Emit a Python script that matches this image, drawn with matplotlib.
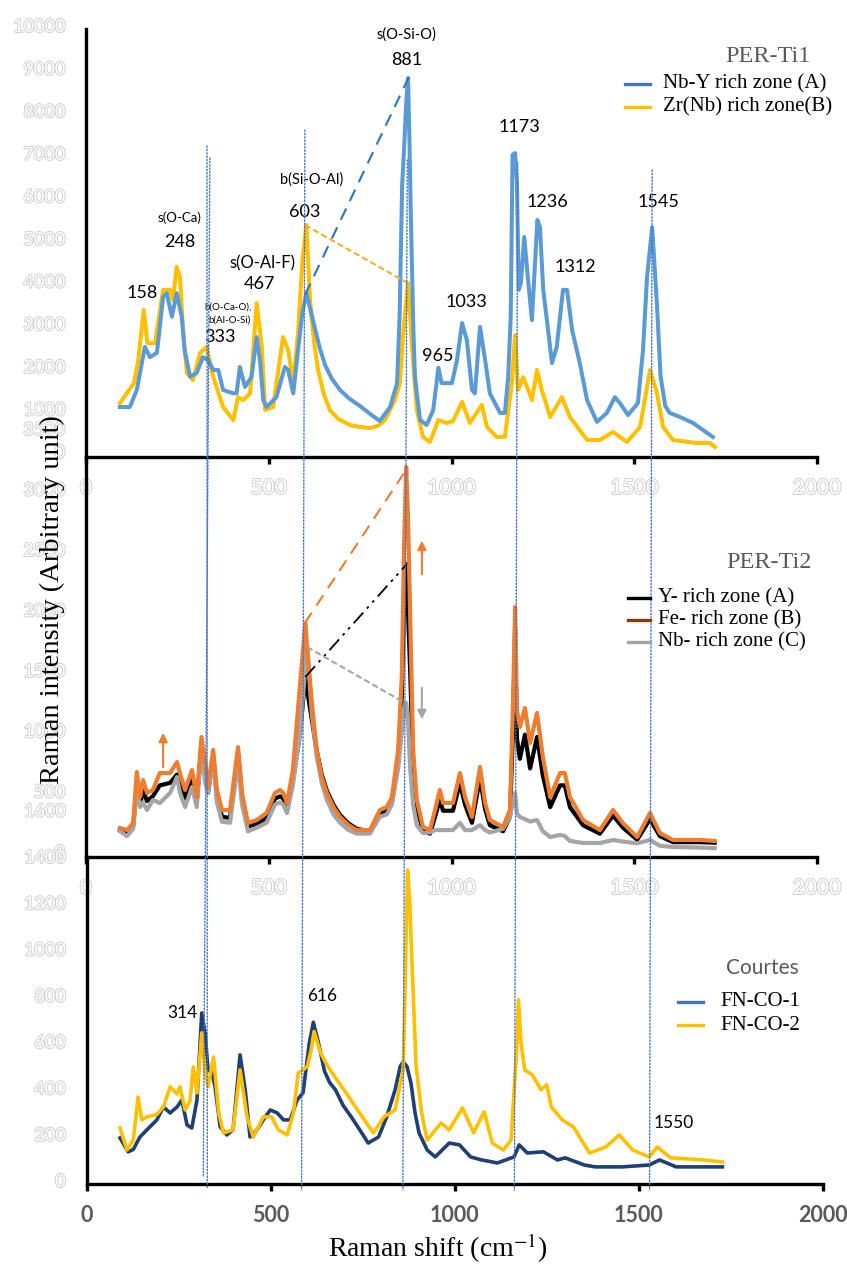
import matplotlib.pyplot as plt
import matplotlib.patheffects as pe
from matplotlib.patches import ConnectionPatch
from matplotlib.lines import Line2D

plt.rcParams['mathtext.fontset'] = 'stix'

# ---- PER-Ti1 (top panel) ----
t1_x_a = [93, 120, 139, 161, 175, 194, 211, 221, 235, 248, 262, 270, 285, 303, 320, 334, 348, 362, 375, 403,
          412, 421, 435, 453, 467, 476, 485, 494, 521, 544, 553, 567, 580, 592, 603, 613, 627, 640, 654, 672,
          695, 720, 750, 780, 804, 832, 851, 858, 865, 870, 876, 881, 885, 888, 892, 896, 900, 905, 914, 932,
          950, 964, 973, 1001, 1015, 1029, 1042, 1056, 1064, 1078, 1092, 1105, 1133, 1146, 1155, 1162, 1167,
          1174, 1179, 1184, 1190, 1199, 1208, 1220, 1235, 1242, 1251, 1260, 1275, 1288, 1305, 1316, 1330, 1351,
          1371, 1398, 1425, 1447, 1461, 1483, 1510, 1524, 1535, 1549, 1562, 1572, 1585, 1597, 1625, 1661, 1688,
          1715]
t1_y_a = [1080, 1080, 1480, 2490, 2250, 2350, 3660, 3750, 3200, 3750, 3200, 2400, 1790, 1880, 2250, 2180, 1950,
          1950, 1480, 1400, 1400, 2020, 1550, 1790, 2720, 2180, 1240, 1080, 1310, 2020, 1950, 1400, 2400, 3300,
          3750, 3400, 2900, 2450, 2070, 1750, 1480, 1280, 1100, 900, 750, 1080, 1640, 3200, 6300, 7100, 8200,
          8800, 7300, 5900, 4300, 2800, 1800, 1410, 775, 657, 1010, 2000, 1640, 1640, 2180, 3050, 2650, 1480,
          1400, 2960, 2180, 1400, 940, 940, 1780, 3190, 7000, 7040, 6340, 3830, 4000, 5070, 4200, 3120, 5470,
          5300, 3830, 3190, 2110, 2490, 3830, 3830, 2890, 2110, 1240, 730, 940, 1310, 1170, 890, 1170, 2420,
          4130, 5300, 3500, 1800, 1100, 940, 845, 704, 540, 376]
t1_x_b = [93, 131, 143, 158, 168, 189, 211, 230, 238, 248, 257, 266, 276, 293, 312, 330, 348, 375, 403, 416,
          430, 449, 467, 481, 490, 512, 539, 553, 567, 580, 592, 603, 613, 624, 635, 650, 667, 690, 722, 750,
          777, 800, 818, 845, 859, 867, 881, 892, 905, 922, 941, 964, 987, 1004, 1029, 1050, 1083, 1097, 1124,
          1146, 1165, 1174, 1182, 1196, 1210, 1220, 1234, 1247, 1270, 1302, 1324, 1371, 1406, 1442, 1480, 1516,
          1543, 1562, 1579, 1606, 1671, 1707, 1721]
t1_y_b = [1170, 1640, 2180, 3360, 2580, 2580, 3830, 3830, 3590, 4370, 4130, 2820, 1880, 1710, 2350, 2490, 1790,
          1080, 770, 1310, 1240, 1400, 3520, 2490, 1010, 1080, 2720, 2420, 1640, 2800, 4500, 5350, 3590, 2600,
          1950, 1400, 1010, 800, 657, 610, 587, 640, 775, 1240, 1640, 2720, 3990, 2500, 1010, 376, 258, 775,
          704, 750, 1200, 704, 1130, 610, 376, 376, 1640, 2770, 1480, 1780, 1480, 1240, 1950, 1480, 845, 1310,
          845, 305, 305, 493, 258, 610, 1950, 1410, 610, 305, 235, 235, 140]

# ---- PER-Ti2 (middle panel) ----
t2_x = [93, 112, 129, 139, 148, 156, 167, 183, 202, 230, 249, 257, 271, 290, 303, 316, 326, 334, 348, 358, 372,
        394, 416, 427, 443, 467, 494, 517, 531, 540, 550, 566, 586, 600, 605, 618, 631, 645, 659, 677, 695, 718,
        741, 777, 804, 823, 837, 854, 864, 870, 876, 881, 887, 895, 905, 922, 941, 955, 968, 977, 1004, 1023,
        1037, 1056, 1078, 1092, 1105, 1141, 1160, 1168, 1174, 1179, 1187, 1201, 1215, 1234, 1250, 1270, 1297,
        1310, 1324, 1360, 1406, 1442, 1469, 1508, 1543, 1570, 1606, 1680, 1720]
t2_y_a = [190, 170, 220, 560, 400, 520, 430, 470, 560, 580, 650, 600, 450, 620, 420, 900, 700, 500, 800, 480, 300,
          290, 820, 450, 220, 240, 290, 450, 470, 450, 380, 600, 1000, 1457, 1350, 1100, 850, 650, 515, 400, 315,
          245, 200, 180, 330, 350, 420, 760, 1300, 2000, 2392, 2000, 1500, 700, 380, 180, 160, 300, 440, 350, 350,
          580, 400, 250, 620, 360, 230, 180, 300, 1000, 1850, 950, 780, 980, 700, 960, 640, 380, 560, 560, 380,
          230, 160, 310, 210, 110, 280, 140, 90, 90, 85]
t2_y_b = [207, 190, 248, 670, 463, 604, 497, 522, 662, 662, 753, 662, 522, 687, 463, 960, 745, 546, 853, 522, 356,
          356, 877, 497, 248, 273, 331, 497, 522, 497, 414, 687, 1407, 1904, 1705, 1242, 853, 629, 497, 381, 298,
          232, 190, 190, 356, 381, 463, 853, 1457, 2508, 3195, 2781, 1954, 853, 439, 215, 190, 356, 522, 414, 414,
          662, 463, 298, 712, 414, 273, 215, 356, 1200, 2036, 1184, 1043, 1200, 911, 1159, 795, 463, 662, 662,
          463, 273, 190, 356, 248, 132, 331, 165, 108, 108, 100]
t2_y_c = [180, 140, 200, 522, 380, 420, 356, 439, 414, 497, 629, 500, 381, 546, 381, 877, 580, 500, 770, 420, 260,
          250, 750, 400, 180, 210, 250, 400, 420, 400, 330, 560, 1000, 1550, 1705, 1150, 800, 580, 440, 320, 250,
          190, 160, 160, 300, 320, 400, 700, 1000, 1200, 1242, 1100, 700, 400, 230, 165, 170, 190, 190, 190, 190,
          250, 190, 190, 230, 190, 170, 200, 300, 420, 497, 330, 298, 280, 260, 273, 180, 132, 150, 140, 100, 83,
          83, 108, 95, 80, 108, 60, 50, 45, 40]

# ---- Courtes (bottom panel) ----
co_x_1 = [91, 113, 127, 145, 164, 191, 209, 227, 246, 259, 273, 286, 300, 313, 322, 330, 341, 349, 363, 381, 398,
          417, 431, 444, 463, 480, 499, 518, 535, 553, 572, 588, 605, 616, 630, 646, 660, 676, 697, 719, 740, 765,
          793, 815, 838, 852, 860, 870, 881, 892, 903, 925, 947, 985, 1013, 1043, 1073, 1116, 1161, 1175, 1197,
          1241, 1279, 1300, 1352, 1381, 1454, 1528, 1556, 1601, 1675, 1727]
co_y_1 = [190, 130, 140, 194, 225, 268, 324, 298, 324, 354, 246, 233, 354, 730, 644, 484, 471, 411, 238, 203, 225,
          549, 398, 194, 225, 268, 311, 298, 268, 268, 354, 385, 600, 690, 600, 480, 430, 398, 330, 281, 230, 168,
          194, 280, 398, 500, 519, 500, 428, 300, 212, 138, 108, 168, 160, 108, 95, 82, 108, 160, 125, 130, 95,
          104, 73, 65, 65, 73, 95, 65, 65, 65]
co_x_2 = [91, 110, 127, 140, 150, 164, 190, 209, 227, 246, 254, 268, 281, 290, 300, 313, 322, 330, 345, 359, 372,
          398, 417, 436, 453, 480, 503, 521, 545, 562, 575, 588, 600, 610, 618, 635, 655, 676, 705, 728, 749, 779,
          808, 838, 860, 866, 872, 878, 885, 895, 910, 925, 963, 985, 1021, 1051, 1080, 1102, 1132, 1153, 1168,
          1173, 1180, 1190, 1211, 1234, 1250, 1262, 1292, 1322, 1366, 1410, 1447, 1483, 1528, 1550, 1586, 1675,
          1727]
co_y_2 = [233, 138, 181, 367, 268, 281, 290, 324, 411, 380, 411, 311, 350, 497, 385, 644, 471, 411, 540, 298, 212,
          225, 484, 281, 194, 281, 281, 225, 203, 298, 471, 484, 500, 570, 650, 560, 500, 450, 385, 330, 281, 212,
          281, 311, 484, 900, 1348, 1200, 900, 500, 300, 181, 255, 225, 320, 212, 303, 168, 138, 181, 570, 787,
          600, 484, 462, 398, 420, 324, 268, 238, 125, 151, 203, 138, 108, 151, 104, 95, 86]

x_ticks = [0, 500, 1000, 1500, 2000]
t1_yticks = list(range(0, 10001, 1000))
t2_yticks = list(range(0, 3501, 500))
co_yticks = list(range(0, 1601, 200))

# guide lines: (x, y) at top in panel 1, (x, y) at bottom in panel 3
guides = [((331, 7207), (328, -30)), ((339, 6925), (317, 22)), ((599, 7582), (584, -35)),
          ((879, 6878), (859, -35)), ((1181, 6808), (1162, -35)), ((1549, 6643), (1529, -35))]

W, H = 847, 1269
fig = plt.figure(figsize=(W / 100, H / 100), dpi=100)


def box(l, t, r, b):
    return [l / W, 1 - b / H, (r - l) / W, (b - t) / H]


ax1 = fig.add_axes(box(86, 29, 817, 457))
ax2 = fig.add_axes(box(86, 457, 817, 857))
ax3 = fig.add_axes(box(86.5, 857, 823, 1184))
ax1.set_ylim(-94, 9953)
ax2.set_ylim(-33, 3278)
ax3.set_ylim(-9, 1404)

ghost = dict(color='white', family='Lato', annotation_clip=False,
             path_effects=[pe.withStroke(linewidth=1.4, foreground='#d0d0d0')])

for ax, yt in [(ax1, t1_yticks), (ax2, t2_yticks), (ax3, co_yticks)]:
    ax.set_facecolor('none')
    ax.set_xlim(0, 2000)
    for s in ['top', 'right']:
        ax.spines[s].set_visible(False)
    for s in ['left', 'bottom']:
        ax.spines[s].set_linewidth(2.4)
        ax.spines[s].set_color('black')
    ax.set_xticks(x_ticks)
    ax.set_yticks([])
    ax.tick_params(axis='x', length=5, width=2.4, direction='out', labelbottom=False)
    for t in yt:
        ax.annotate(str(t), (0, t), xycoords=('axes fraction', 'data'), xytext=(-21, 0),
                    textcoords='offset pixels', ha='right', va='center', fontsize=13, **ghost)

for ax in (ax1, ax2):
    for t in x_ticks:
        ax.annotate(str(t), (t, 0), xycoords=('data', 'axes fraction'), xytext=(0, -31),
                    textcoords='offset pixels', ha='center', va='center', fontsize=15, **ghost)
for t in x_ticks:
    ax3.annotate(str(t), (t, 0), xycoords=('data', 'axes fraction'), xytext=(0, -31),
                 textcoords='offset pixels', ha='center', va='center', fontsize=15.5,
                 fontweight='bold', family='Lato', color='#595959', annotation_clip=False)

# panel 1
ax1.plot(t1_x_b, t1_y_b, color='#ffc000', lw=2.9, solid_joinstyle='round')
ax1.plot(t1_x_a, t1_y_a, color='#5b9bd5', lw=2.9, solid_joinstyle='round')
ax1.plot([599, 886], [3709, 8873], color='#2e75b6', lw=1.5, ls=(0, (6, 4)))
ax1.plot([599, 880], [5352, 3991], color='#e8b330', lw=1.5, ls=(0, (3, 1.5)))

lab = dict(family='Lato', ha='center', va='center', color='black')
for s, x, y, fs in [('s(O-Si-O)', 878, 9812, 10.5), ('881', 878, 9225, 13), ('1173', 1185, 7653, 13),
                    ('1236', 1261, 5892, 13), ('1312', 1338, 4366, 13), ('1545', 1565, 5892, 13),
                    ('1033', 1042, 3545, 13), ('965', 963, 2277, 13), ('b(Si-O-Al)', 618, 6408, 10.5),
                    ('603', 599, 5657, 13), ('s(O-Al-F)', 482, 4460, 12), ('467', 476, 3967, 13),
                    ('158', 153, 3756, 13), ('s(O-Ca)', 257, 5516, 9.5), ('248', 257, 4953, 13),
                    ('b(O-Ca-O),', 389, 3427, 7), ('b(Al-O-Si)', 394, 3122, 7), ('333', 367, 2723, 13)]:
    ax1.text(x, y, s, fontsize=fs, clip_on=False, **lab)

# panel 2
ax2.plot(t2_x, t2_y_a, color='black', lw=3, solid_joinstyle='round')
ax2.plot(t2_x, t2_y_c, color='#a5a5a5', lw=3, solid_joinstyle='round')
ax2.plot(t2_x, t2_y_b, color='#ed7d31', lw=3, solid_joinstyle='round')
ax2.plot([599, 881], [1904, 3195], color='#ed7d31', lw=1.5, ls=(0, (6, 4)))
ax2.plot([600, 878], [1457, 2392], color='black', lw=1.3, ls=(0, (8, 3, 1.5, 3, 1.5, 3)))
ax2.plot([605, 873], [1705, 1242], color='#a5a5a5', lw=1.5, ls=(0, (3, 1.5)))
for x, y0, y1, c in [(919, 2285, 2608, '#ed7d31'), (919, 1391, 1084, '#a5a5a5'), (211, 687, 1018, '#ed7d31')]:
    ax2.annotate('', xy=(x, y1), xytext=(x, y0),
                 arrowprops=dict(arrowstyle='-|>', color=c, lw=1.5, mutation_scale=13))

# panel 3
ax3.plot(co_x_1, co_y_1, color='#203f73', lw=2.6, solid_joinstyle='round')
ax3.plot(co_x_2, co_y_2, color='#ffc000', lw=2.6, solid_joinstyle='round')
for s, x, y in [('314', 260, 730), ('616', 640, 804)]:
    ax3.text(x, y, s, fontsize=12.5, **lab)
ax3.text(1594, 255, '1550', fontsize=12.5, **lab)

# dotted guide lines crossing the panels
for (xa, ya), (xb, yb) in guides:
    con = ConnectionPatch(xyA=(xa, ya), coordsA=ax1.transData, xyB=(xb, yb), coordsB=ax3.transData,
                          color='#4472c4', lw=1.0, ls=(0, (1, 1.4)))
    fig.add_artist(con)


# legends
def fx(px):
    return px / W


def fy(py):
    return 1 - py / H


def legend(title, tx, ty, tfont, entries, hx0, hx1, txt_x):
    fig.text(fx(tx), fy(ty), title, ha='center', va='center', color='#595959', **tfont)
    for label, color, py in entries:
        fig.add_artist(Line2D([fx(hx0), fx(hx1)], [fy(py), fy(py)], color=color, lw=2.4))
        fig.text(fx(txt_x), fy(py), label, ha='left', va='center', family='Liberation Serif', fontsize=15)


legend('PER-Ti1', 768, 57, dict(family='Liberation Serif', fontsize=17.5),
       [('Nb-Y rich zone (A)', '#4472c4', 84), ('Zr(Nb) rich zone(B)', '#ffc000', 107)], 625, 650, 663)
legend('PER-Ti2', 769, 563, dict(family='Liberation Serif', fontsize=17.5),
       [('Y- rich zone (A)', 'black', 598), ('Fe- rich zone (B)', '#843c0c', 620),
        ('Nb- rich zone (C)', '#a5a5a5', 642)], 628, 650, 658)
legend('Courtes', 762, 968, dict(family='Lato', fontsize=15),
       [('FN-CO-1', '#4472c4', 1002), ('FN-CO-2', '#ffc000', 1025)], 678, 703, 720)

fig.text(fx(52), fy(600), 'Raman intensity (Arbitrary unit)', rotation=90, ha='center', va='center',
         family='Liberation Serif', fontsize=20.5)
fig.text(fx(438), fy(1248), 'Raman shift (cm$^{-1}$)', ha='center', va='center',
         family='Liberation Serif', fontsize=20)

fig.savefig('out.png', dpi=100)
